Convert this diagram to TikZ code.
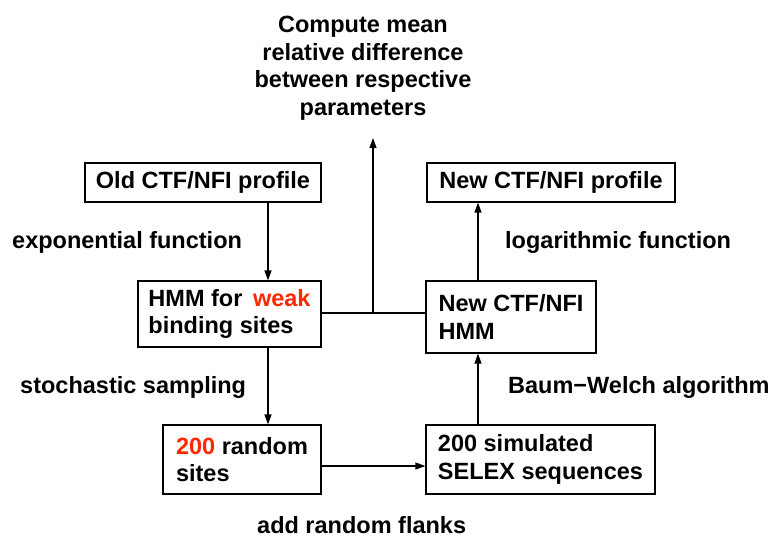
\documentclass[tikz,border=0pt]{standalone}
\usepackage{fontspec}
\setmainfont{Liberation Sans}
\usetikzlibrary{arrows.meta}
\definecolor{hired}{RGB}{255,40,0}
\begin{document}
\begin{tikzpicture}[x=1pt,y=-1pt,
  every node/.style={font=\fontsize{23.5}{27.5}\selectfont\bfseries},
  boxnode/.style={draw, line width=1.2pt, inner sep=0pt, align=left},
  lab/.style={inner sep=0pt, anchor=west},
  arr/.style={line width=1.2pt, -{Triangle[length=10pt,width=7pt]}},
  ln/.style={line width=1.2pt}]
\useasboundingbox (0,0) rectangle (771,539);
\node[boxnode, minimum width=236pt, minimum height=39pt] (old) at (203,182.5) {Old CTF/NFI profile};
\node[boxnode, minimum width=248pt, minimum height=39pt] (newp) at (551,182.5) {New CTF/NFI profile};
\node[boxnode, minimum width=183pt, minimum height=66pt] (hmm) at (229.5,314) {HMM for\hspace{0.45em}\textcolor{hired}{weak}\\binding sites};
\node[boxnode, minimum width=170pt, minimum height=72pt] (newhmm) at (511,317) {New CTF/NFI\\HMM};
\node[boxnode, minimum width=158pt, minimum height=69pt] (rand) at (242,459.5) {\textcolor{hired}{200} random\\sites};
\node[boxnode, minimum width=229pt, minimum height=69pt] (selex) at (540.5,459.5) {200 simulated\\SELEX sequences};
\node[inner sep=0pt, align=center] (top) at (363,68) {Compute mean\\relative difference\\between respective\\parameters};
\node[lab] (l1) at (12,242) {exponential function};
\node[lab] (l2) at (505,242) {logarithmic function};
\node[lab] (l3) at (20,387) {stochastic sampling};
\node[lab] (l4) at (508,387) {Baum−Welch algorithm};
\node[lab] (l5) at (257,525) {add random flanks};
\coordinate (ax) at (268,0);
\coordinate (bx) at (478,0);
\coordinate (jx) at (373,313);
\coordinate (tip) at (373,138);
\coordinate (ry) at (0,466);
\draw[arr] (old.south -| ax) -- (hmm.north -| ax);
\draw[arr] (hmm.south -| ax) -- (rand.north -| ax);
\draw[arr] (rand.east |- ry) -- (selex.west |- ry);
\draw[arr] (selex.north -| bx) -- (newhmm.south -| bx);
\draw[arr] (newhmm.north -| bx) -- (newp.south -| bx);
\draw[ln] (hmm.east |- jx) -- (newhmm.west |- jx);
\draw[arr] (jx) -- (tip);
\end{tikzpicture}
\end{document}
